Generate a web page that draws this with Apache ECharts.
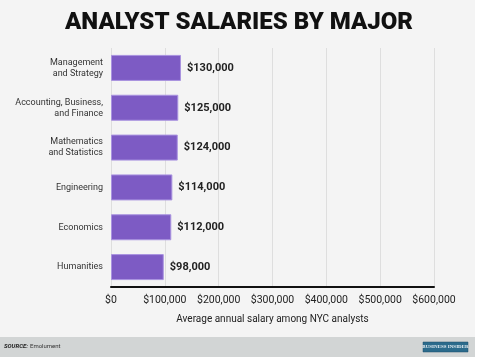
<!DOCTYPE html>
<html>
<head>
<meta charset="utf-8">
<script src="https://cdn.jsdelivr.net/npm/echarts@6/dist/echarts.min.js"></script>
<style>
html,body{margin:0;padding:0;background:#fff;}
#c{width:478px;height:359px;}
</style>
</head>
<body>
<div id="c"></div>
<script>
const categories = ["Management\nand Strategy", "Accounting, Business,\nand Finance", "Mathematics\nand Statistics", "Engineering", "Economics", "Humanities"];
const salaries = [130000, 125000, 124000, 114000, 112000, 98000];
const xTicks = [0, 100000, 200000, 300000, 400000, 500000, 600000];

const fmt = v => '$' + v.toLocaleString('en-US');

const chart = echarts.init(document.getElementById('c'), null, {renderer: 'canvas'});
chart.setOption({
  animation: false,
  backgroundColor: '#fff',
  graphic: [
    {type: 'rect', z: -10, silent: true, shape: {x: 0, y: 0, width: 475, height: 337}, style: {fill: '#f4f4f4'}},
    {type: 'rect', z: -10, silent: true, shape: {x: 0, y: 337, width: 475, height: 20}, style: {fill: '#d2d5d5'}},
    {type: 'text', left: 4, top: 343, style: {text: 'SOURCE:', font: 'italic bold 6px Roboto', fill: '#222'}},
    {type: 'text', left: 30, top: 343, style: {text: 'Emolument', font: '6px Roboto', fill: '#333'}},
    {type: 'rect', shape: {x: 423, y: 342, width: 45, height: 10}, style: {fill: '#2b6b8c', stroke: '#1d4f69', lineWidth: 0.5}},
    {type: 'text', x: 445.5, y: 347, style: {text: 'BUSINESS INSIDER', font: 'bold 5px "Liberation Serif"', fill: '#e8f0f4', align: 'center', verticalAlign: 'middle'}}
  ],
  title: {
    text: 'ANALYST SALARIES BY MAJOR',
    left: 'center',
    top: 6,
    textStyle: {fontFamily: 'Roboto', fontWeight: 900, fontSize: 24, color: '#111'}
  },
  grid: {left: 111, right: 44, top: 48, bottom: 72, containLabel: false},
  xAxis: {
    type: 'value',
    min: 0, max: 600000, interval: 100000,
    axisLine: {show: true, onZero: false, lineStyle: {color: '#111', width: 2}},
    axisTick: {show: false},
    axisLabel: {
      margin: 8, fontSize: 10.5, color: '#222', fontFamily: 'Roboto',
      formatter: v => xTicks.includes(v) ? fmt(v) : ''
    },
    splitLine: {show: true, lineStyle: {color: '#dedede', width: 1}},
    name: 'Average annual salary among NYC analysts',
    nameLocation: 'middle',
    nameGap: 27,
    nameTextStyle: {fontSize: 10, color: '#222', fontFamily: 'Roboto'}
  },
  yAxis: {
    type: 'category',
    data: categories,
    inverse: true,
    axisLine: {show: false},
    axisTick: {show: false},
    axisLabel: {margin: 8, fontSize: 9, lineHeight: 11, color: '#333', fontFamily: 'Roboto', align: 'right'}
  },
  series: [{
    type: 'bar',
    data: salaries,
    barWidth: 26,
    itemStyle: {color: '#7d5bc4', borderColor: '#a993e0', borderWidth: 1},
    label: {
      show: true, position: 'right', distance: 6,
      fontFamily: 'Roboto', fontWeight: 'bold', fontSize: 11, color: '#222',
      formatter: p => fmt(p.value)
    }
  }]
});
</script>
</body>
</html>
